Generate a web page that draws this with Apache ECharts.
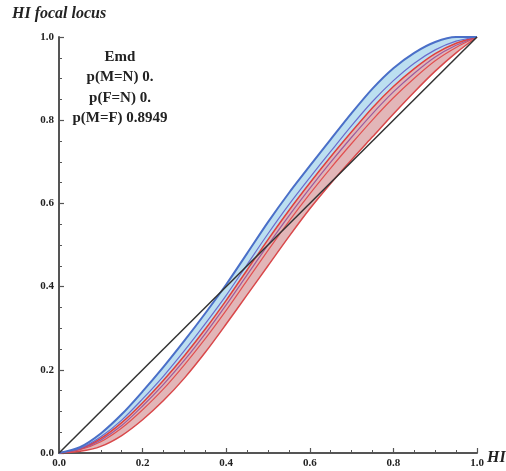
<!DOCTYPE html>
<html><head><meta charset="utf-8">
<script src="https://cdn.jsdelivr.net/npm/echarts@6/dist/echarts.min.js"></script>
<style>html,body{margin:0;padding:0;background:#fff}#c{width:506px;height:471px}</style>
</head><body><div id="c"></div>
<script>
const xs     = [0,0.05,0.1,0.15,0.2,0.25,0.3,0.35,0.4,0.45,0.5,0.55,0.6,0.65,0.7,0.75,0.8,0.85,0.9,0.95,1.0];
const blueUp = [0,0.014,0.047,0.093,0.148,0.207,0.27,0.336,0.405,0.48,0.555,0.625,0.69,0.754,0.817,0.876,0.925,0.962,0.988,1.0,1.0];
const blueMid= [0,0.011,0.039,0.079,0.130,0.185,0.246,0.311,0.379,0.453,0.527,0.597,0.662,0.725,0.787,0.845,0.895,0.937,0.969,0.990,1.0];
const redUp  = [0,0.010,0.035,0.073,0.121,0.175,0.234,0.298,0.367,0.440,0.513,0.583,0.649,0.712,0.772,0.830,0.881,0.924,0.960,0.985,1.0];
const purpMid= [0,0.009,0.031,0.066,0.113,0.165,0.223,0.287,0.356,0.428,0.500,0.570,0.636,0.699,0.759,0.816,0.868,0.913,0.952,0.980,1.0];
const redMid = [0,0.008,0.027,0.060,0.104,0.154,0.212,0.275,0.343,0.415,0.487,0.557,0.623,0.685,0.744,0.801,0.854,0.901,0.943,0.975,1.0];
const bandLow= [0,0.004,0.016,0.042,0.080,0.126,0.18,0.242,0.31,0.38,0.45,0.52,0.587,0.648,0.705,0.76,0.815,0.868,0.918,0.962,1.0];
const diagX = [0,1];
const diagY = [0,1];
const legendLines = ['Emd','p(M=N) 0.','p(F=N) 0.','p(M=F) 0.8949'];

const pts = ys => xs.map((x,i)=>[x,ys[i]]);
const serif = '"Liberation Serif","DejaVu Serif",serif';

function bandSeries(top, bottom, color){
  return {
    type:'custom', silent:true, z:1,
    data:[0],
    renderItem:function(params, api){
      const p = [];
      for (let i=0;i<xs.length;i++) p.push(api.coord([xs[i], top[i]]));
      for (let i=xs.length-1;i>=0;i--) p.push(api.coord([xs[i], bottom[i]]));
      return {type:'polygon', shape:{points:p, smooth:0.25}, style:{fill:color, stroke:null}};
    }
  };
}
function lineSeries(ys, color, w, z){
  return {type:'line', data:pts(ys), smooth:0.3, showSymbol:false, symbol:'none', z:z||3,
          lineStyle:{color:color, width:w}, silent:true};
}

const chart = echarts.init(document.getElementById('c'), null, {renderer:'canvas'});
const axisCommon = {
  type:'value', min:0, max:1, interval:0.2,
  axisLine:{show:true, onZero:false, lineStyle:{color:'#555', width:2}},
  axisTick:{show:true, inside:true, length:5, lineStyle:{color:'#555', width:1.2}},
  minorTick:{show:true, splitNumber:4, length:3, lineStyle:{color:'#555', width:1}},
  splitLine:{show:false},
  axisLabel:{fontFamily:serif, fontWeight:'bold', fontSize:11, color:'#222',
             formatter:v=>v.toFixed(1)}
};
chart.setOption({
  animation:false,
  grid:{left:59, right:29, top:37, bottom:18, containLabel:false},
  xAxis:Object.assign({}, axisCommon, {axisLabel:Object.assign({}, axisCommon.axisLabel,{margin:5})}),
  yAxis:Object.assign({}, axisCommon, {axisLabel:Object.assign({}, axisCommon.axisLabel,{margin:5})}),
  graphic:[
    {type:'text', left:12, top:6, style:{text:'HI focal locus', font:'italic bold 16px '+serif, fill:'#222'}},
    {type:'text', left:487, top:450, style:{text:'HI', font:'italic bold 16px '+serif, fill:'#222'}}
  ].concat(legendLines.map((t,i)=>({type:'text', x:120, y:57+i*20.5,
      style:{text:t, font:'bold 15px '+serif, fill:'#222', align:'center', verticalAlign:'middle'}}))),
  series:[
    bandSeries(blueUp, redUp, '#bcdff0'),
    bandSeries(redUp, bandLow, '#e2b6b8'),
    lineSeries(bandLow, '#d9484a', 1.5),
    lineSeries(redMid, '#e25050', 1.2),
    lineSeries(purpMid, '#9b5b9e', 1.2),
    lineSeries(redUp, '#e0403c', 1.5),
    lineSeries(blueMid, '#6a6ccc', 1.2),
    lineSeries(blueUp, '#4a6fc8', 2),
    {type:'line', data:diagX.map((x,i)=>[x,diagY[i]]), showSymbol:false, symbol:'none', z:4,
     lineStyle:{color:'#333', width:1.5}, silent:true}
  ]
});
</script></body></html>
